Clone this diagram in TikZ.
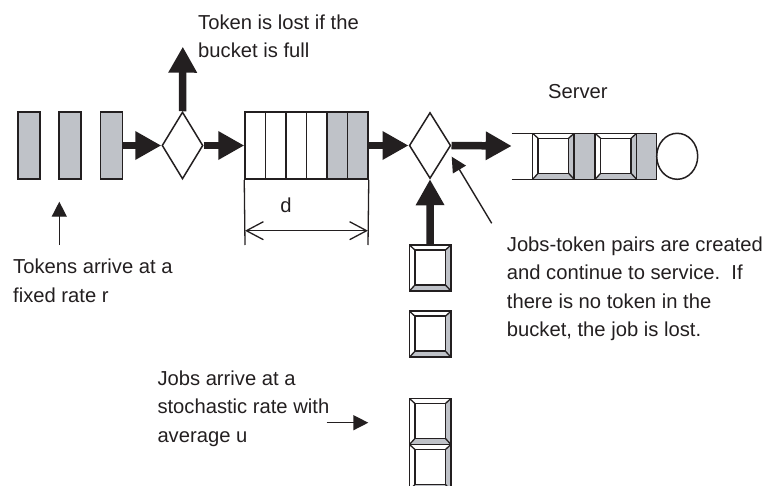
\documentclass[tikz,border=0pt]{standalone}
\usepackage{fontspec}
\setmainfont{Liberation Sans}
\usetikzlibrary{arrows.meta,shapes.geometric}
\definecolor{ink}{RGB}{35,31,32}
\definecolor{tokgray}{RGB}{191,194,200}
\tikzset{
  lbl/.style={inner sep=0pt, align=left, anchor=base west, text=ink,
    font=\fontsize{20.2}{28.5}\selectfont},
  token/.style={draw=ink, line width=1.5pt, fill=tokgray, minimum width=22pt,
    minimum height=67pt, inner sep=0pt},
  gate/.style={diamond, draw=ink, line width=1.5pt, fill=white, minimum width=41pt,
    minimum height=67pt, inner sep=0pt},
  bigarrow/.style={draw=ink, line width=7.5pt, -{Triangle[length=26pt,width=27pt]}},
  thinarrow/.style={draw=ink, line width=1.4pt, -{Triangle[length=15pt,width=15pt]}},
  dimline/.style={draw=ink, line width=1.3pt,
    {Straight Barb[length=17pt,width=18pt]}-{Straight Barb[length=17pt,width=18pt]}},
  bevel/.style={draw=ink, line width=1.5pt, fill=white, minimum width=41.5pt,
    minimum height=46pt, inner sep=0pt,
    path picture={
      \coordinate (A) at (path picture bounding box.south west);
      \coordinate (B) at (path picture bounding box.south east);
      \coordinate (C) at (path picture bounding box.north east);
      \coordinate (D) at (path picture bounding box.north west);
      \coordinate (a) at ([shift={(5.5pt,6pt)}]A);
      \coordinate (b) at ([shift={(-5.5pt,6pt)}]B);
      \coordinate (c) at ([shift={(-5.5pt,-5pt)}]C);
      \coordinate (d) at ([shift={(5.5pt,-5pt)}]D);
      \fill[tokgray] (A) -- (B) -- (b) -- (a) -- cycle;
      \fill[tokgray] (B) -- (C) -- (c) -- (b) -- cycle;
      \draw[ink, line width=1.3pt] (A) -- (a) (B) -- (b) (C) -- (c) (D) -- (d);
      \draw[ink, line width=1.5pt] (a) -- (b) -- (c) -- (d) -- cycle;
    }},
}
\begin{document}
\begin{tikzpicture}[x=1pt, y=-1pt]
\useasboundingbox (0,0) rectangle (767,486);
\clip (0,0) rectangle (767,486);

% arriving tokens
\node[token] (t1) at (29,145.5) {};
\node[token] (t2) at (70,145.5) {};
\node[token] (t3) at (111.5,145.5) {};

% gate in front of the bucket
\node[gate] (g1) at (182.5,145.5) {};

% the bucket with six slots, the last two holding tokens
\node[draw=ink, line width=1.5pt, minimum width=123pt, minimum height=67pt,
      inner sep=0pt] (bucket) at (306.5,145.5) {};
\fill[tokgray] (327,112) rectangle (368,179);
\foreach \i in {1,...,5}
  \draw[ink, line width=1.5pt] (245+20.5*\i,112) -- (245+20.5*\i,179);
\draw[ink, line width=1.5pt] (245,112) rectangle (368,179);

% gate pairing jobs with tokens
\node[gate, minimum width=41.5pt, minimum height=66pt] (g2) at (430,145.5) {};

% server queue
\coordinate (qin) at (511.7,146);
\draw[ink, line width=1.5pt] (511.7,133.3) -- (656.7,133.3)
                             (511.7,179.3) -- (656.7,179.3);
\node[bevel] (s1) at (553.35,156.3) {};
\node[draw=ink, line width=1.5pt, fill=tokgray, minimum width=21pt,
      minimum height=46pt, inner sep=0pt] (sg1) at (584.5,156.3) {};
\node[bevel] (s2) at (615.85,156.3) {};
\node[draw=ink, line width=1.5pt, fill=tokgray, minimum width=20pt,
      minimum height=46pt, inner sep=0pt] (sg2) at (646.7,156.3) {};
\node[ellipse, draw=ink, line width=1.5pt, minimum width=41pt, minimum height=46pt,
      inner sep=0pt] (srv) at (677.2,156.3) {};

% waiting jobs
\node[bevel] (j1) at (430.2,268) {};
\node[bevel] (j2) at (430.2,334.2) {};
\node[bevel] (j3) at (430.2,421.5) {};
\node[bevel] (j4) at (430.2,467.5) {};

% main flow
\draw[bigarrow] (t3.east) -- (g1.west);
\draw[bigarrow] (g1.east) -- (bucket.west);
\draw[bigarrow] (bucket.east) -- (g2.west);
\draw[bigarrow] (g2.east) -- (qin);
\draw[bigarrow] (j1.north) -- (g2.south);
\coordinate (lost) at (182.8,46.7);
\draw[bigarrow] (g1.north) -- (lost);

% bucket depth
\coordinate (dl0) at (245,245);
\coordinate (dr0) at (368,245);
\draw[ink, line width=1.3pt] (bucket.south west) -- (dl0);
\draw[ink, line width=1.3pt] (bucket.south east) -- (dr0);
\coordinate (dl) at (245,230.7);
\coordinate (dr) at (368,230.7);
\draw[dimline] (dl) -- (dr);
\node[lbl, anchor=center] (dlab) at (286,205) {d};

% annotations
\coordinate (tokfrom) at (59.3,245);
\coordinate (tokto) at (59.3,201.7);
\draw[thinarrow] (tokfrom) -- (tokto);
\coordinate (pairfrom) at (491.7,223.3);
\coordinate (pairto) at (451.7,156.7);
\draw[thinarrow] (pairfrom) -- (pairto);
\coordinate (jobfrom) at (326.7,422.7);
\coordinate (jobto) at (368.3,422.7);
\draw[thinarrow] (jobfrom) -- (jobto);

% multi-line labels are placed by the baseline of their last line
\node[lbl] (lostlab) at (198,58) {Token is lost if the\\bucket is full};
\node[lbl] (srvlab) at (548,98.3) {Server};
\node[lbl] (toklab) at (13,302) {Tokens arrive at a\\fixed rate r};
\node[lbl] (pairlab) at (506.7,336.5) {Jobs-token pairs are created\\and continue to service.\ \ If\\there is no token in the\\bucket, the job is lost.};
\node[lbl] (joblab) at (157.3,442) {Jobs arrive at a\\stochastic rate with\\average u};
\end{tikzpicture}
\end{document}
